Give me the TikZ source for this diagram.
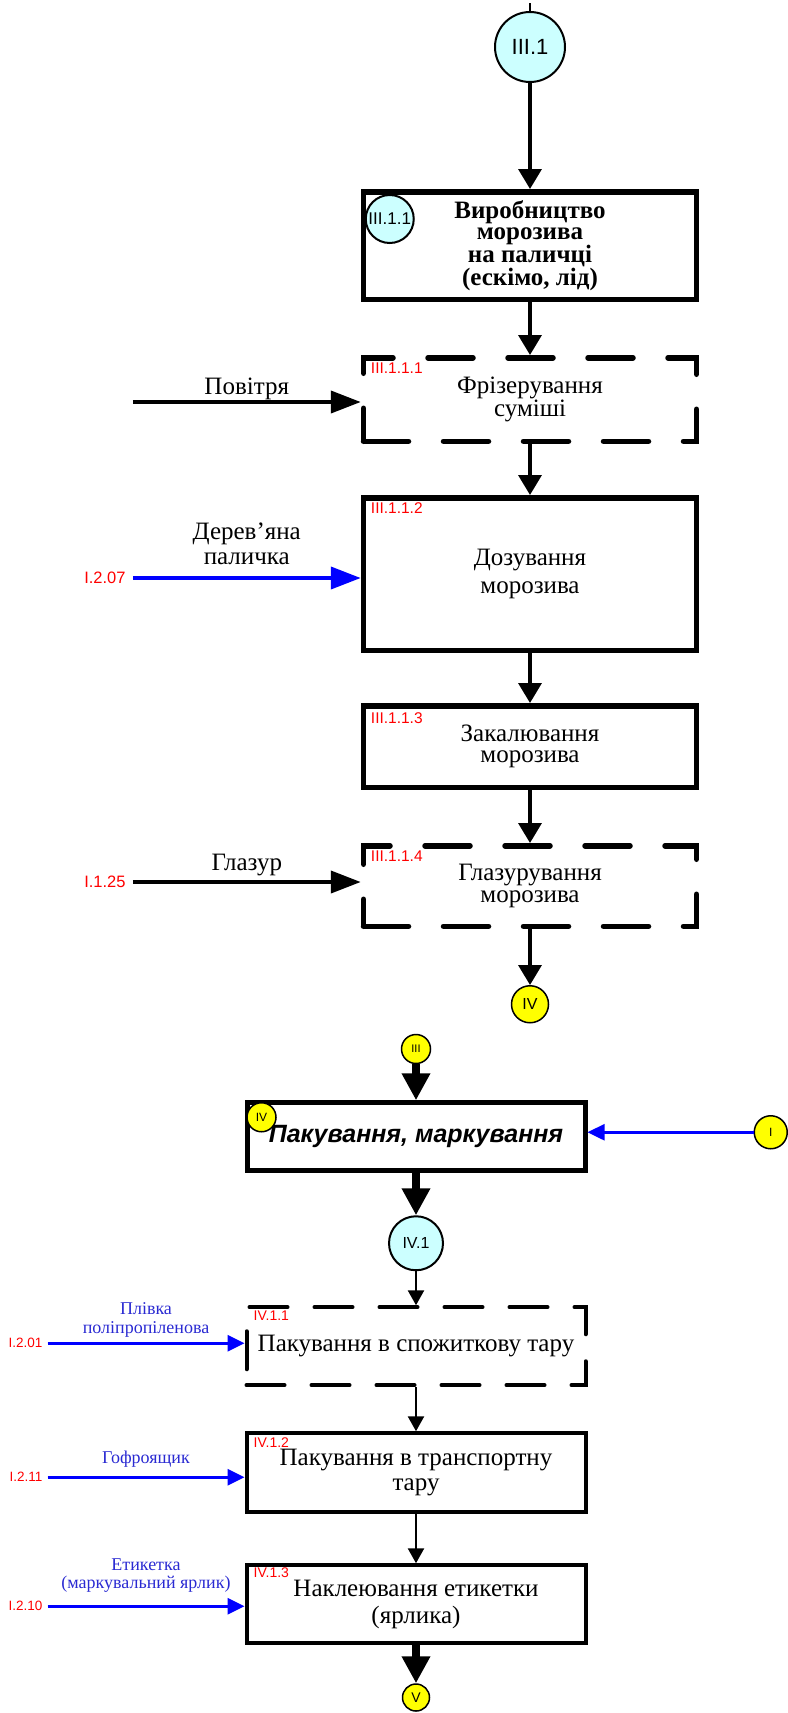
\documentclass[tikz,border=0pt]{standalone}
\usepackage{fontspec}
\setmainfont{Liberation Serif}
\newfontfamily\arial{Liberation Sans}
\usetikzlibrary{arrows.meta,positioning}
\definecolor{hubcyan}{HTML}{CCFFFF}
\definecolor{jointyellow}{HTML}{FFFF00}
\definecolor{tagred}{HTML}{FF0000}
\definecolor{feedblue}{HTML}{0000FF}
\definecolor{labelblue}{HTML}{2A2AD2}

\begin{document}
\begin{tikzpicture}[
    x=1pt, y=-1pt,
    proc/.style={rectangle, draw, line width=5.5pt, minimum width=333pt, align=center, inner sep=0pt, font=\fontsize{25}{21.5}\selectfont},
    procdash/.style={proc, dash pattern=on 45pt off 35pt, line cap=round},
    pack/.style={rectangle, draw, line width=4pt, minimum width=339pt, align=center, inner sep=0pt, font=\fontsize{25}{25}\selectfont},
    packdash/.style={pack, dash pattern=on 38pt off 27pt, line cap=round},
    hub/.style={circle, draw, line width=2pt, fill=hubcyan, inner sep=0pt, font=\arial\fontsize{16}{16}\selectfont},
    joint/.style={circle, draw, line width=1.5pt, fill=jointyellow, inner sep=0pt, font=\arial\fontsize{13}{13}\selectfont},
    numtag/.style={anchor=north west, inner sep=0pt, text=tagred, font=\arial\fontsize{15.5}{15.5}\selectfont},
    srctag/.style={anchor=east, inner sep=0pt, text=tagred, font=\arial\fontsize{16.5}{16.5}\selectfont},
    flow/.style={-{Triangle[length=20pt,width=23pt]}, line width=3.5pt},
    bigflow/.style={-{Triangle[length=27pt,width=27pt]}, line width=8pt},
    smallflow/.style={-{Triangle[length=15pt,width=16pt]}, line width=2.5pt},
    feed/.style={-{Triangle[length=30pt,width=22pt]}, line width=4pt},
    thinfeed/.style={-{Triangle[length=17pt,width=16pt]}, line width=3pt, draw=feedblue},
    feedtext/.style={inner sep=0pt, align=center, font=\fontsize{25}{25}\selectfont},
    thintext/.style={inner sep=0pt, align=center, text=labelblue, font=\fontsize{18}{18.5}\selectfont}
]
\useasboundingbox (0,0) rectangle (787,1713);

% Stage III.1
\coordinate (in31) at (530,3);
\node[hub, minimum size=70pt, font=\arial\fontsize{22}{22}\selectfont] (c31) at (530,47) {III.1};
\node[proc, minimum height=107.5pt, below=106pt of c31, font=\fontsize{25}{21}\selectfont\bfseries] (b311) {Виробництво\\морозива\\на паличці\\(ескімо, лід)};
\node[hub, minimum size=48pt, font=\arial\fontsize{17}{17}\selectfont] (c311) at ([shift={(29pt,-30pt)}]b311.north west) {III.1.1};

% Steps III.1.1.x
\node[procdash, minimum height=83.5pt, below=53pt of b311] (d1) {Фрізерування\\суміші};
\node[proc, minimum height=152.5pt, below=51pt of d1, font=\fontsize{25}{28}\selectfont] (b2) {Дозування\\морозива};
\node[proc, minimum height=81.5pt, below=50pt of b2] (b3) {Закалювання\\морозива};
\node[procdash, minimum height=80.5pt, below=53pt of b3] (d4) {Глазурування\\морозива};
\node[joint, minimum size=37pt, font=\arial\fontsize{16}{16}\selectfont, below=56pt of d4] (j4) {IV};

\node[numtag] (t1) at ([shift={(10pt,-8pt)}]d1.north west) {III.1.1.1};
\node[numtag] (t2) at ([shift={(10pt,-7pt)}]b2.north west) {III.1.1.2};
\node[numtag] (t3) at ([shift={(10pt,-9pt)}]b3.north west) {III.1.1.3};
\node[numtag] (t4) at ([shift={(10pt,-8pt)}]d4.north west) {III.1.1.4};

% Inputs
\coordinate (air) at ([xshift=-228pt, yshift=-2.5pt]d1.west);
\coordinate (stick) at ([xshift=-228pt, yshift=-4pt]b2.west);
\coordinate (glaze) at ([xshift=-228pt, yshift=4pt]d4.west);
\node[srctag] (s207) at ([xshift=-7pt]stick) {I.2.07};
\node[srctag] (s125) at ([xshift=-7pt]glaze) {I.1.25};

% Arrows
\draw[line width=1.5pt] (in31) -- (c31);
\draw[flow] (c31) -- (b311);
\draw[flow] (b311) -- (d1);
\draw[flow] (d1) -- (b2);
\draw[flow] (b2) -- (b3);
\draw[flow] (b3) -- (d4);
\draw[flow] (d4) -- (j4);
\draw[feed] (air) -- node[feedtext, above=0pt] (lair) {Повітря} (air -| d1.west);
\draw[feed, draw=feedblue, fill=feedblue] (stick) -- node[feedtext, above=11pt] (lstick) {Дерев’яна\\паличка} (stick -| b2.west);
\draw[feed] (glaze) -- node[feedtext, above=4.5pt] (lglaze) {Глазур} (glaze -| d4.west);

% Stage IV
\node[joint, minimum size=29pt, font=\arial\fontsize{11}{11}\selectfont] (j3) at (416,1049) {III};
\node[rectangle, draw, line width=5pt, minimum width=338pt, minimum height=68pt, inner sep=0pt, below=36pt of j3, font=\arial\fontsize{25}{25}\selectfont\bfseries\itshape] (pk) {Пакування, маркування};
\node[joint, minimum size=29pt, font=\arial\fontsize{12}{12}\selectfont] (jiv) at ([shift={(17pt,-17pt)}]pk.north west) {IV};
\node[joint, minimum size=33pt, font=\arial\fontsize{12}{12}\selectfont, right=166pt of pk, yshift=4.5pt] (j1) {I};
\node[hub, minimum size=54pt] (c41) [below=42pt of pk] {IV.1};

% Steps IV.1.x
\node[packdash, minimum height=78pt, below=34pt of c41] (d411) {Пакування в спожиткову тару};
\node[pack, minimum height=79pt, below=44pt of d411] (b412) {Пакування в транспортну\\тару};
\node[pack, minimum height=78pt, below=49pt of b412, font=\fontsize{25}{27}\selectfont] (b413) {Наклеювання етикетки\\(ярлика)};
\node[joint, minimum size=27pt, font=\arial\fontsize{14}{14}\selectfont, below=38pt of b413] (j5) {V};

\node[numtag, font=\arial\fontsize{14}{14}\selectfont] (t411) at ([shift={(9pt,-5pt)}]d411.north west) {IV.1.1};
\node[numtag, font=\arial\fontsize{14}{14}\selectfont] (t412) at ([shift={(9pt,-6pt)}]b412.north west) {IV.1.2};
\node[numtag, font=\arial\fontsize{14}{14}\selectfont] (t413) at ([shift={(9pt,-4pt)}]b413.north west) {IV.1.3};

% Inputs
\coordinate (film) at ([xshift=-197pt, yshift=3pt]d411.west);
\coordinate (box) at ([xshift=-197pt, yshift=-4.5pt]b412.west);
\coordinate (label) at ([xshift=-197pt, yshift=-2pt]b413.west);
\node[srctag, font=\arial\fontsize{13.5}{13.5}\selectfont] (s201) at ([xshift=-5pt]film) {I.2.01};
\node[srctag, font=\arial\fontsize{13.5}{13.5}\selectfont] (s211) at ([xshift=-5pt]box) {I.2.11};
\node[srctag, font=\arial\fontsize{13.5}{13.5}\selectfont] (s210) at ([xshift=-5pt]label) {I.2.10};

% Arrows
\draw[bigflow] (j3) -- (pk);
\draw[thinfeed, fill=feedblue, line width=2.5pt] (j1) -- (j1 -| pk.east);
\draw[bigflow] (pk) -- (c41);
\draw[smallflow] (c41) -- (d411);
\draw[smallflow] (d411) -- (b412);
\draw[smallflow] (b412) -- (b413);
\draw[bigflow] (b413) -- (j5);
\draw[thinfeed, fill=feedblue] (film) -- node[thintext, above=4.5pt] (lfilm) {Плівка\\поліпропіленова} (film -| d411.west);
\draw[thinfeed, fill=feedblue] (box) -- node[thintext, above=8pt] (lbox) {Гофроящик} (box -| b412.west);
\draw[thinfeed, fill=feedblue] (label) -- node[thintext, above=12pt] (llabel) {Етикетка\\(маркувальний ярлик)} (label -| b413.west);

\end{tikzpicture}
\end{document}
